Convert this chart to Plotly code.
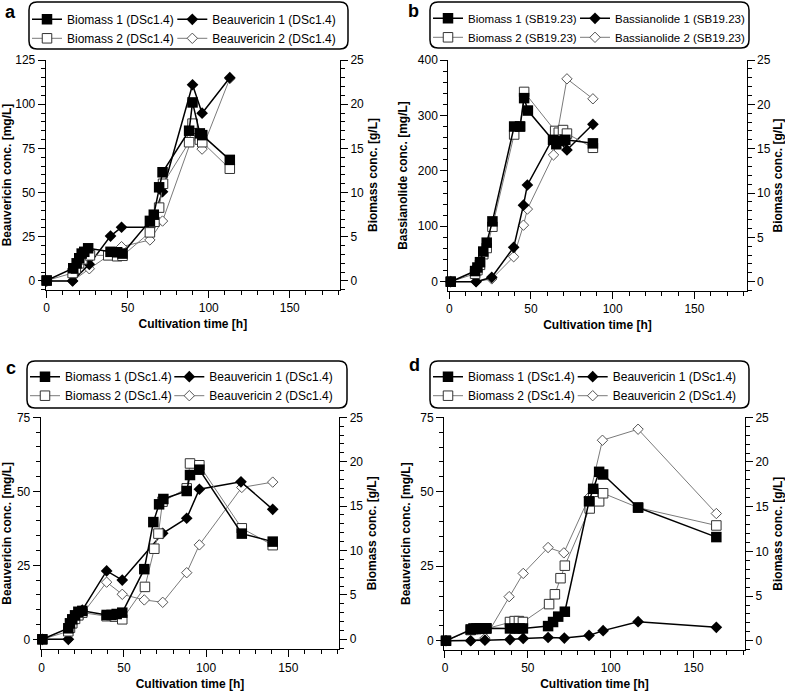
import plotly.graph_objects as go

W, H = 785, 692
FONT = "Arial, Liberation Sans, Helvetica, sans-serif"

# ---------------- Panel a (DSc1.4) ----------------
a_t_bio1 = [0, 16.4, 18.5, 20.1, 21.6, 23.2, 25.6, 39.4, 43.5, 46.8, 63.7, 66.1, 69.4, 71.5, 87.9, 90, 94.5, 96, 113]
a_bio1 = [0.05, 1.44, 2.0, 2.57, 3.1, 3.3, 3.7, 3.3, 3.25, 3.1, 6.8, 7.5, 10.6, 12.3, 17.0, 20.2, 16.7, 16.5, 13.7]
a_t_bio2 = [0, 16, 18, 20, 22, 26.7, 38, 43.5, 46.8, 63.7, 66.5, 69.4, 71.8, 87.9, 90, 94.5, 96, 113]
a_bio2 = [0.05, 0.9, 1.4, 2.0, 2.45, 2.9, 2.9, 2.8, 2.85, 5.5, 6.7, 8.3, 11.0, 15.7, 17.8, 16.0, 15.7, 12.7]
a_t_pro1 = [0, 16, 26.3, 39.4, 46.2, 63.7, 71.5, 90, 95.9, 113]
a_pro1 = [0, 0, 9.4, 25.4, 30.4, 30.4, 50.5, 111, 94.9, 115]
a_t_pro2 = [0, 16, 26.3, 46.2, 63.7, 71.5, 90, 95.9, 113]
a_pro2 = [0, 0, 6.9, 19.4, 23.2, 33.9, 81.6, 74.6, 114.5]

# ---------------- Panel b (SB19.23) ----------------
b_t_bio1 = [0.9, 15.8, 17.2, 18.8, 20.8, 22.9, 26.4, 39.7, 43.3, 45.8, 48.1, 63.5, 65.5, 68.5, 71, 87.9]
b_bio1 = [0, 1.2, 1.6, 2.2, 3.4, 4.4, 6.8, 17.5, 17.5, 20.7, 19.3, 16.0, 15.5, 15.9, 16.0, 15.6]
b_t_bio2 = [0.9, 15.8, 17.2, 18.8, 20.8, 22.9, 26.4, 39.7, 43.3, 45.8, 64.8, 67, 69.6, 72, 87.9]
b_bio2 = [0, 0.9, 1.3, 1.9, 3.1, 3.8, 6.2, 16.6, 17.5, 21.4, 17.0, 16.8, 17.1, 16.7, 15.1]
b_t_pro1 = [0.9, 16.4, 26, 39.4, 45.4, 47.8, 64, 72, 87.9]
b_pro1 = [0, 0, 7.9, 62, 138, 174.5, 262, 237.7, 284]
b_t_pro2 = [0.9, 16.4, 26, 39.4, 45.4, 47.8, 63.8, 72, 87.9]
b_pro2 = [0, 0, 5, 45, 102, 131, 228.7, 366, 330]

# ---------------- Panel c (DSc1.4) ----------------
c_t_bio1 = [0.4, 16.2, 17.2, 18.6, 20.3, 22.3, 24.7, 39.5, 42.5, 45.6, 49, 62.4, 67.9, 71.4, 74, 88.2, 90.2, 95.9, 121.7, 140.5]
c_bio1 = [0, 1.24, 1.8, 2.25, 2.7, 3.1, 3.2, 2.74, 2.74, 2.85, 3.0, 7.9, 13.2, 15.2, 15.8, 16.7, 18.5, 19.1, 11.9, 11.0]
c_t_bio2 = [0.4, 16.2, 17.2, 18.6, 20.3, 22.3, 24.7, 39.5, 44.5, 49, 62.8, 68.5, 71, 73.5, 88.2, 90.2, 95.9, 121.7, 140.5]
c_bio2 = [0, 0.9, 1.3, 1.8, 2.3, 2.7, 3.0, 2.6, 2.55, 2.25, 5.9, 10.2, 11.9, 15.5, 17.0, 19.8, 19.6, 12.5, 10.6]
c_t_pro1 = [0.4, 16.2, 24.7, 39.5, 49, 73.6, 88.2, 95.9, 121.2, 140.5]
c_pro1 = [0, 0, 9.9, 23.1, 20.0, 35.8, 40.9, 50.7, 53.2, 43.9]
c_t_pro2 = [0.4, 16.2, 24.7, 39.5, 49, 62.4, 73.6, 88.2, 95.9, 121.7, 140.5]
c_pro2 = [0, 0, 8.5, 19.3, 15.2, 13.3, 12.5, 22.5, 31.9, 51.3, 53.1]

# ---------------- Panel d (DSc1.4) ----------------
d_t_bio1 = [0.6, 15.5, 17.2, 19, 21, 23, 25, 39.2, 42.2, 45, 47, 62.2, 65.2, 68.3, 72.3, 86.9, 89.4, 93, 95.4, 116.5, 163.7]
d_bio1 = [0, 1.27, 1.38, 1.38, 1.4, 1.4, 1.4, 1.38, 1.38, 1.38, 1.38, 1.64, 2.1, 2.7, 3.25, 15.6, 17.0, 18.9, 18.6, 14.9, 11.6]
d_t_bio2 = [0.6, 15.5, 17.2, 19, 21, 23, 25, 39.2, 42, 44.6, 47, 62.8, 66.3, 69.7, 72.3, 87.3, 89.4, 93, 95.4, 116.5, 163.7]
d_bio2 = [0, 1.2, 1.3, 1.3, 1.35, 1.35, 1.35, 2.1, 2.2, 2.2, 2.1, 4.1, 5.2, 7.0, 8.4, 14.8, 16.6, 15.6, 16.5, 14.9, 12.9]
d_t_pro1 = [0.6, 15.5, 24.1, 39.2, 47.2, 62.2, 72, 86.9, 95.4, 116.5, 163.7]
d_pro1 = [0, 0, 0.2, 0.4, 0.8, 1.1, 0.9, 1.8, 3.4, 6.4, 4.5]
d_t_pro2 = [0.6, 15.5, 24.1, 38.7, 47.2, 62.2, 71.7, 87, 95, 116.5, 163.7]
d_pro2 = [0, 0, 0.9, 14.8, 22.6, 31.3, 29.5, 48.2, 67.3, 71.0, 42.7]

names_dsc = ["Biomass 1 (DSc1.4)", "Biomass 2 (DSc1.4)", "Beauvericin 1 (DSc1.4)", "Beauvericin 2 (DSc1.4)"]
names_sb = ["Biomass 1 (SB19.23)", "Biomass 2 (SB19.23)", "Bassianolide 1 (SB19.23)", "Bassianolide 2 (SB19.23)"]

STY = {
    "bio1": dict(line=dict(color="black", width=1.5), marker=dict(symbol="square", size=10.5, color="black")),
    "bio2": dict(line=dict(color="#7a7a7a", width=1), marker=dict(symbol="square", size=9.5, color="white", line=dict(color="#333", width=1))),
    "pro1": dict(line=dict(color="black", width=1.5), marker=dict(symbol="diamond", size=9, color="black")),
    "pro2": dict(line=dict(color="#7a7a7a", width=1), marker=dict(symbol="diamond", size=8, color="white", line=dict(color="#555", width=1))),
}


def fx(p):
    return p / W


def fy(p):
    return 1 - p / H


panels = [
    dict(key="a", x="x", y="y", y2="y2", leg=("legend", "legend2"),
         data=[(a_t_bio1, a_bio1), (a_t_bio2, a_bio2), (a_t_pro1, a_pro1), (a_t_pro2, a_pro2)],
         names=names_dsc, ytitle="Beauvericin conc. [mg/L]",
         xdom=(45.7, 340), ydom=(290, 60), xr=(-0.6, 181), yr=(-5.1, 125), y2r=(-1.02, 25),
         ydt=25, yminor=5, legx=(27, 172.3), legy=4.8, legfont=12, box=(29, 2, 348, 49),
         lab=(10, 12)),
    dict(key="b", x="x2", y="y3", y2="y4", leg=("legend3", "legend4"),
         data=[(b_t_bio1, b_bio1), (b_t_bio2, b_bio2), (b_t_pro1, b_pro1), (b_t_pro2, b_pro2)],
         names=names_sb, ytitle="Bassianolide conc. [mg/L]",
         xdom=(448.3, 746.7), ydom=(291, 60), xr=(-0.6, 182), yr=(-16.8, 400), y2r=(-1.05, 25),
         ydt=100, yminor=20, legx=(428, 575), legy=3.8, legfont=11.5, box=(430, 2, 749, 48),
         lab=(413, 11)),
    dict(key="c", x="x3", y="y5", y2="y6", leg=("legend5", "legend6"),
         data=[(c_t_bio1, c_bio1), (c_t_bio2, c_bio2), (c_t_pro1, c_pro1), (c_t_pro2, c_pro2)],
         names=names_dsc, ytitle="Beauvericin conc. [mg/L]",
         xdom=(40.7, 339.3), ydom=(649.3, 417.3), xr=(-0.6, 181), yr=(-3.38, 75), y2r=(-1.127, 25),
         ydt=25, yminor=5, legx=(25, 169.3), legy=362.2, legfont=12, box=(27, 361, 347, 408),
         lab=(11, 368)),
    dict(key="d", x="x4", y="y7", y2="y8", leg=("legend7", "legend8"),
         data=[(d_t_bio1, d_bio1), (d_t_bio2, d_bio2), (d_t_pro1, d_pro1), (d_t_pro2, d_pro2)],
         names=names_dsc, ytitle="Beauvericin conc. [mg/L]",
         xdom=(444, 745), ydom=(650, 417.3), xr=(-0.6, 181), yr=(-3.1, 75), y2r=(-1.033, 25),
         ydt=25, yminor=5, legx=(428, 572.7), legy=362.2, legfont=12, box=(430, 361, 749, 408),
         lab=(414, 365)),
]

fig = go.Figure()
layout = dict(width=W, height=H, margin=dict(l=0, r=0, t=0, b=0, autoexpand=False),
              paper_bgcolor="white", plot_bgcolor="white", showlegend=True,
              font=dict(family=FONT, color="black", size=12))
shapes = []
annotations = []


def axname(ref):
    return ref[0] + "axis" + ref[1:]


tickfont = dict(family=FONT, size=12, color="black")
titlefont = dict(family=FONT, size=12, color="black", weight="bold")

for p in panels:
    keys = ["bio1", "bio2", "pro1", "pro2"]
    order = [1, 3, 0, 2]  # gray series first, black on top
    for i in order:
        t, v = p["data"][i]
        k = keys[i]
        on_bio = k.startswith("bio")
        legname = p["leg"][0] if on_bio else p["leg"][1]
        fig.add_trace(go.Scatter(
            x=t, y=v, mode="lines+markers", name=p["names"][i],
            xaxis=p["x"], yaxis=p["y2"] if on_bio else p["y"],
            legend=legname, legendrank=i,
            cliponaxis=False, **STY[k]))

    xd = [fx(p["xdom"][0]), fx(p["xdom"][1])]
    yd = [fy(p["ydom"][0]), fy(p["ydom"][1])]
    common = dict(showline=True, linecolor="black", linewidth=1, ticks="outside", ticklen=7,
                  tickwidth=1, tickcolor="black", showgrid=False, zeroline=False, tickfont=tickfont,
                  automargin=False)
    layout[axname(p["x"])] = dict(
        domain=xd, anchor=p["y"], range=list(p["xr"]), tick0=0, dtick=50,
        minor=dict(dtick=10, ticklen=4, ticks="outside", tickcolor="black", tickwidth=1),
        title=dict(text="Cultivation time [h]", font=titlefont, standoff=5), **common)
    layout[axname(p["y"])] = dict(
        domain=yd, anchor=p["x"], side="left", range=list(p["yr"]), tick0=0, dtick=p["ydt"],
        minor=dict(dtick=p["yminor"], ticklen=4, ticks="outside", tickcolor="black", tickwidth=1),
        title=dict(text=p["ytitle"], font=titlefont, standoff=7), **common)
    layout[axname(p["y2"])] = dict(
        domain=yd, anchor=p["x"], overlaying=p["y"], side="right", range=list(p["y2r"]), tick0=0, dtick=5,
        minor=dict(dtick=1, ticklen=4, ticks="outside", tickcolor="black", tickwidth=1),
        title=dict(text="Biomass conc. [g/L]", font=titlefont, standoff=5), **common)

    for j, ln in enumerate(p["leg"]):
        layout[ln] = dict(x=fx(p["legx"][j]), y=fy(p["legy"]), xanchor="left", yanchor="top",
                          orientation="v", bgcolor="rgba(0,0,0,0)", borderwidth=0,
                          font=dict(family=FONT, size=p["legfont"], color="black"))

    x0, y0, x1, y1 = p["box"]
    r = 8
    pts = [
        ("M", x0 + r, y0), ("L", x1 - r, y0), ("Q", x1, y0, x1, y0 + r), ("L", x1, y1 - r),
        ("Q", x1, y1, x1 - r, y1), ("L", x0 + r, y1), ("Q", x0, y1, x0, y1 - r), ("L", x0, y0 + r),
        ("Q", x0, y0, x0 + r, y0),
    ]
    path = ""
    for seg in pts:
        cmd = seg[0]
        coords = seg[1:]
        parts = []
        for m in range(0, len(coords), 2):
            parts.append(f"{fx(coords[m]):.5f},{fy(coords[m + 1]):.5f}")
        path += cmd + " ".join(parts) + " "
    shapes.append(dict(type="path", xref="paper", yref="paper", path=path + "Z",
                       line=dict(color="black", width=1.5), fillcolor="rgba(0,0,0,0)", layer="below"))

    annotations.append(dict(text=p["key"], x=fx(p["lab"][0]), y=fy(p["lab"][1]), xref="paper", yref="paper",
                            showarrow=False, xanchor="center", yanchor="middle",
                            font=dict(family=FONT, size=18, color="black", weight="bold")))

layout["shapes"] = shapes
layout["annotations"] = annotations
fig.update_layout(**layout)
fig.write_html("out.html", config={"displayModeBar": False},
               post_script="document.body.style.margin='0px';document.body.style.overflow='hidden';")
